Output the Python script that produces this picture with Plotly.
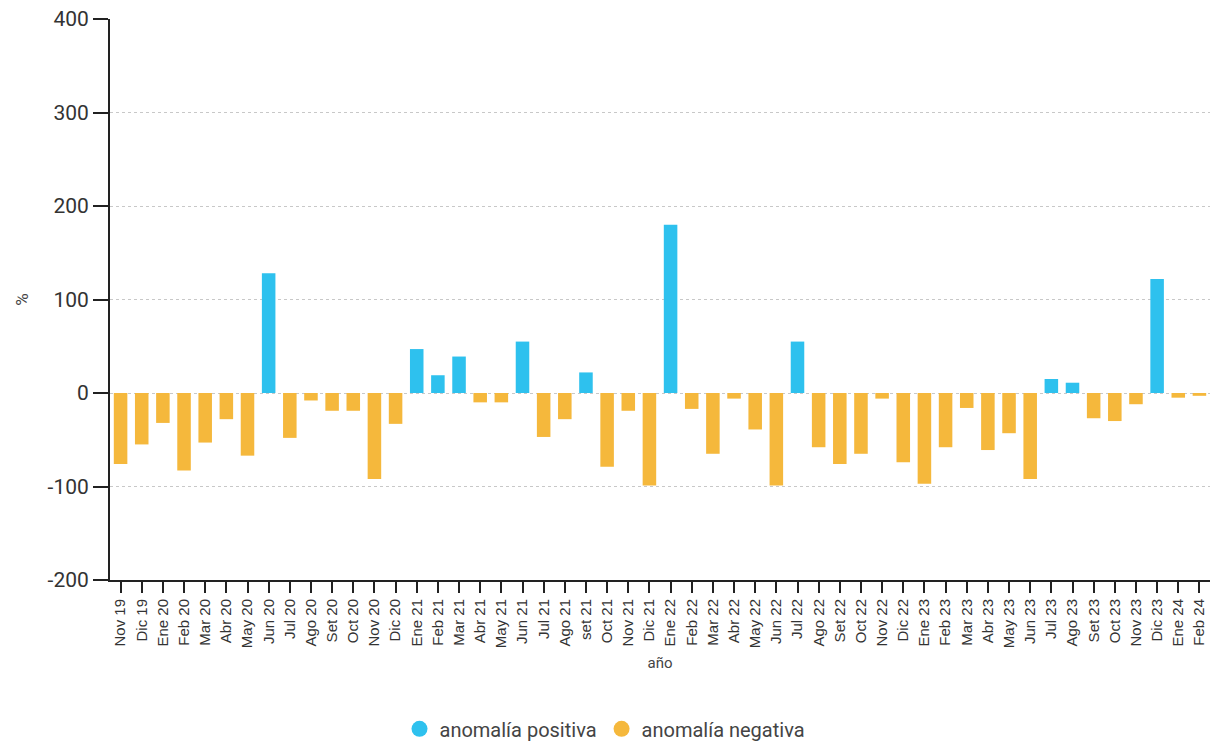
import plotly.graph_objects as go

# ---- data -------------------------------------------------------------
months = [
    "Nov 19", "Dic 19", "Ene 20", "Feb 20", "Mar 20", "Abr 20", "May 20", "Jun 20",
    "Jul 20", "Ago 20", "Set 20", "Oct 20", "Nov 20", "Dic 20", "Ene 21", "Feb 21",
    "Mar 21", "Abr 21", "May 21", "Jun 21", "Jul 21", "Ago 21", "set 21", "Oct 21",
    "Nov 21", "Dic 21", "Ene 22", "Feb 22", "Mar 22", "Abr 22", "May 22", "Jun 22",
    "Jul 22", "Ago 22", "Set 22", "Oct 22", "Nov 22", "Dic 22", "Ene 23", "Feb 23",
    "Mar 23", "Abr 23", "May 23", "Jun 23", "Jul 23", "Ago 23", "Set 23", "Oct 23",
    "Nov 23", "Dic 23", "Ene 24", "Feb 24",
]
anomalia = [
    -76, -55, -32, -83, -53, -28, -67, 128,
    -48, -8, -19, -19, -92, -33, 47, 19,
    39, -10, -10, 55, -47, -28, 22, -79,
    -19, -99, 180, -17, -65, -6, -39, -99,
    55, -58, -76, -65, -6, -74, -97, -58,
    -16, -61, -43, -92, 15, 11, -27, -30,
    -12, 122, -5, -3,
]
y_ticks = [-200, -100, 0, 100, 200, 300, 400]
y_tick_labels = ["-200", "-100", "0", "100", "200", "300", "400"]

positiva = [v if v > 0 else None for v in anomalia]
negativa = [v if v <= 0 else None for v in anomalia]

BLUE = "#2EC1EE"
ORANGE = "#F5B83C"
AXIS = "#222222"
TEXT = "#333333"

fig = go.Figure()
fig.add_trace(go.Bar(x=months, y=positiva, name="anomalía positiva",
                     marker=dict(color=BLUE, line=dict(width=0)),
                     width=0.64, showlegend=False))
fig.add_trace(go.Bar(x=months, y=negativa, name="anomalía negativa",
                     marker=dict(color=ORANGE, line=dict(width=0)),
                     width=0.64, showlegend=False))
# legend entries drawn as circles
fig.add_trace(go.Scatter(x=[None], y=[None], mode="markers", name="anomalía positiva",
                         marker=dict(size=20, color=BLUE, symbol="circle")))
fig.add_trace(go.Scatter(x=[None], y=[None], mode="markers", name="anomalía negativa",
                         marker=dict(size=20, color=ORANGE, symbol="circle")))

fig.update_layout(
    width=1210, height=742,
    margin=dict(l=110, r=0, t=19, b=161.5, autoexpand=False),
    paper_bgcolor="white", plot_bgcolor="white",
    barmode="overlay",
    font=dict(family="Roboto, sans-serif", color=TEXT),
    legend=dict(
        orientation="h", xref="container", yref="container",
        x=0.5, xanchor="center", y=0.044, yanchor="top",
        font=dict(family="Roboto, sans-serif", size=20, color="#444444"),
        itemsizing="trace",
    ),
    xaxis=dict(
        type="category", categoryorder="array", categoryarray=months,
        range=[-0.5, len(months) - 0.5], automargin=False,
        showline=True, linecolor=AXIS, linewidth=2,
        ticks="outside", ticklen=11, tickwidth=1.5, tickcolor=AXIS,
        tickangle=-90,
        tickfont=dict(family="Liberation Sans, Arial, sans-serif", size=15, color=TEXT),
        showgrid=False, zeroline=False,
        title=dict(text="año", font=dict(family="Roboto, sans-serif", size=15, color="#444444"),
                   standoff=10),
    ),
    yaxis=dict(
        range=[-200, 400], tickvals=y_ticks, ticktext=y_tick_labels, automargin=False,
        showline=True, linecolor=AXIS, linewidth=2,
        ticks="outside", ticklen=15, tickwidth=2, tickcolor=AXIS,
        tickfont=dict(family="Roboto, sans-serif", size=21, color=TEXT),
        showgrid=True, gridcolor="#c8c8c8", gridwidth=1, griddash="dot",
        zeroline=False,
        title=dict(text="%", font=dict(family="Roboto, sans-serif", size=17, color="#444444"),
                   standoff=15),
    ),
)

fig.write_html("out.html", config={"displayModeBar": False},
               post_script="document.body.style.margin='0';")
